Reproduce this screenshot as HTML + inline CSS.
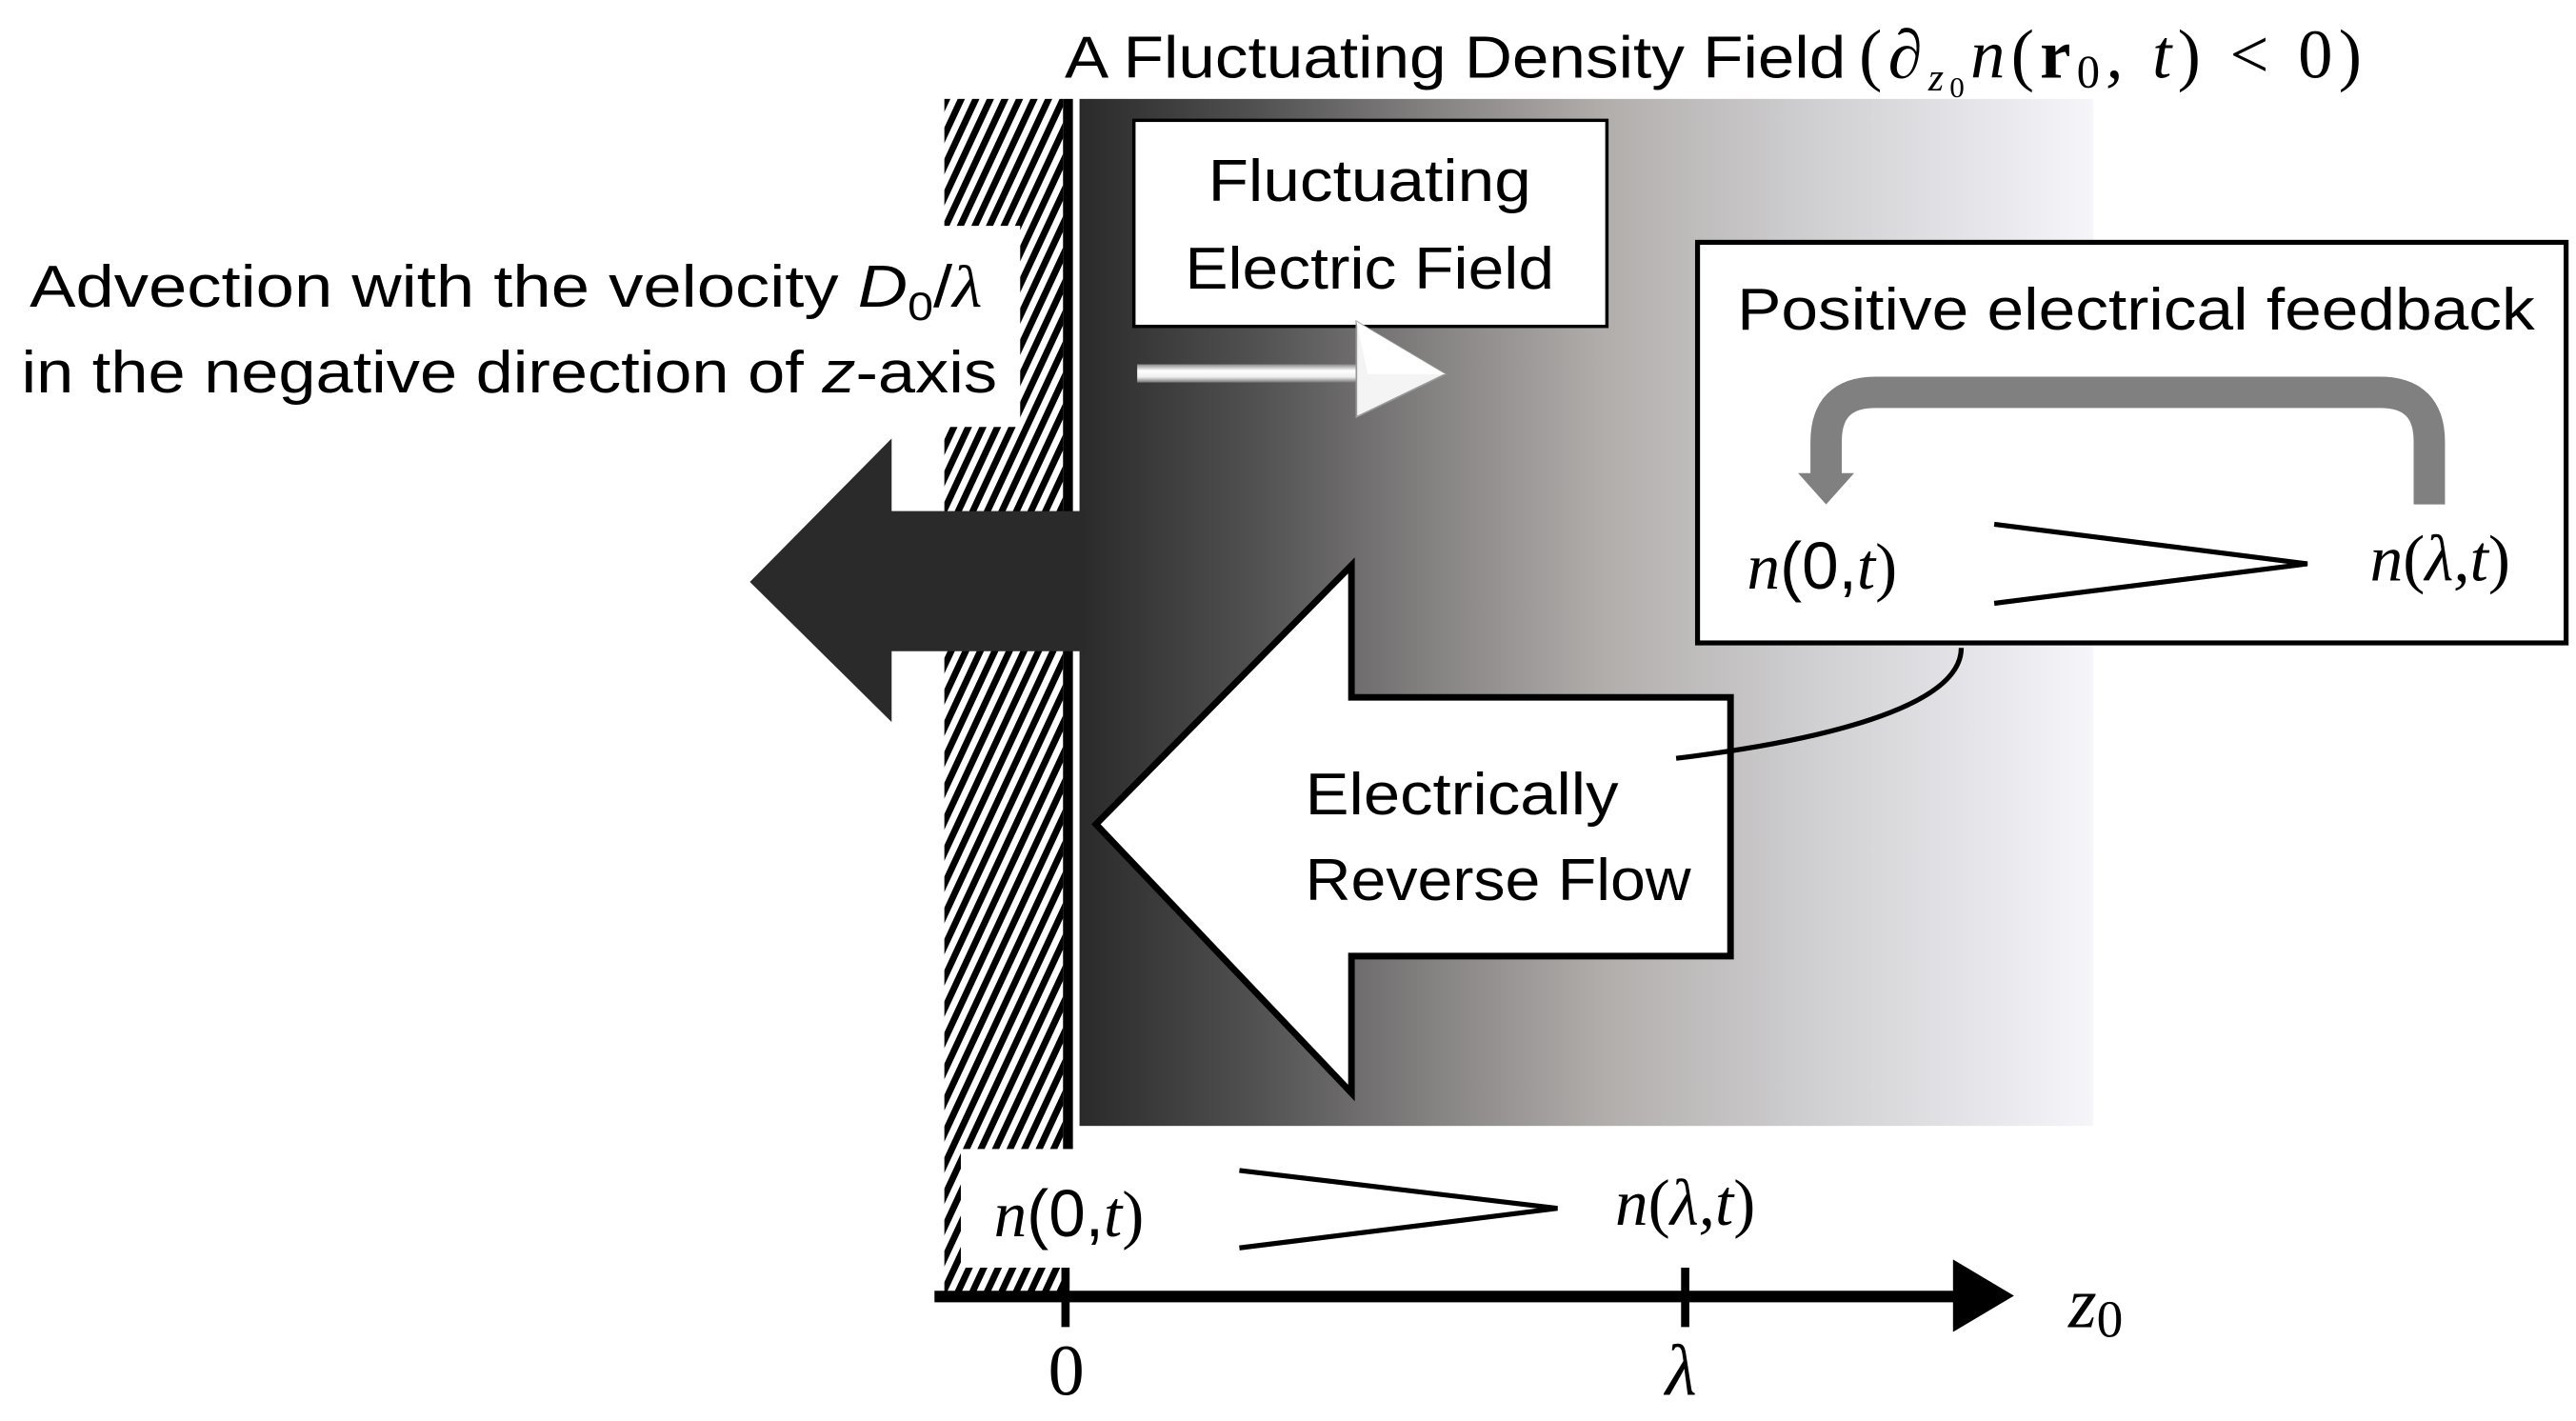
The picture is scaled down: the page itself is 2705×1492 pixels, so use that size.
<!DOCTYPE html>
<html><head><meta charset="utf-8"><style>html,body{margin:0;padding:0;background:#fff}svg{display:block}</style></head>
<body>
<svg width="2705" height="1492" viewBox="0 0 1563 862" preserveAspectRatio="none" xmlns="http://www.w3.org/2000/svg">
<defs>
<linearGradient id="g" x1="0" x2="1" y1="0" y2="0">
<stop offset="0" stop-color="#2a2a2a"/>
<stop offset="0.17" stop-color="#505050"/>
<stop offset="0.35" stop-color="#858282"/>
<stop offset="0.52" stop-color="#b2aeac"/>
<stop offset="0.75" stop-color="#d3d3d6"/>
<stop offset="1" stop-color="#f5f5fa"/>
</linearGradient>
<pattern id="h" width="8" height="8" patternUnits="userSpaceOnUse" patternTransform="rotate(25)">
<rect width="8" height="8" fill="#fff"/><rect width="4" height="8" fill="#000"/>
</pattern>
<linearGradient id="ag" x1="0" x2="0" y1="0" y2="1">
<stop offset="0" stop-color="#888"/><stop offset="0.35" stop-color="#fff"/><stop offset="0.7" stop-color="#eee"/><stop offset="1" stop-color="#777"/>
</linearGradient>
</defs>

<!-- title -->
<text x="646" y="47" font-family="Liberation Sans, sans-serif" font-size="36" textLength="474" lengthAdjust="spacingAndGlyphs">A Fluctuating Density Field</text>
<text x="1128" y="47" font-family="Liberation Serif, serif" font-size="42" font-style="italic" textLength="305" lengthAdjust="spacing"><tspan font-style="normal">(</tspan>∂<tspan font-size="24" dy="8">z</tspan><tspan font-size="18" dy="4" font-style="normal">0</tspan><tspan dy="-12">n</tspan><tspan font-style="normal">(</tspan><tspan font-style="normal" font-weight="bold">r</tspan><tspan font-style="normal" font-size="28" dy="6">0</tspan><tspan dy="-6">, t</tspan><tspan font-style="normal">)  &lt;  0)</tspan></text>

<!-- gradient field -->
<rect x="655" y="60" width="615" height="623" fill="url(#g)"/>

<!-- hatch wall -->
<rect x="573" y="60" width="72" height="725" fill="url(#h)"/>
<rect x="0" y="137" width="619" height="122" fill="#fff"/>
<rect x="583" y="697" width="122" height="72" fill="#fff"/>
<rect x="645" y="60" width="6" height="637" fill="#000"/>

<!-- advection text -->
<text x="307" y="186" text-anchor="middle" font-family="Liberation Sans, sans-serif" font-size="36" textLength="578" lengthAdjust="spacingAndGlyphs">Advection with the velocity <tspan font-style="italic">D</tspan><tspan font-size="24" dy="8">0</tspan><tspan dy="-8">/</tspan><tspan font-family="Liberation Serif, serif" font-style="italic">λ</tspan></text>
<text x="309" y="238" text-anchor="middle" font-family="Liberation Sans, sans-serif" font-size="36" textLength="592" lengthAdjust="spacingAndGlyphs">in the negative direction of <tspan font-style="italic">z</tspan>-axis</text>

<!-- big black arrow -->
<polygon points="455,353 541,266 541,310 657,310 657,395 541,395 541,438" fill="#2a2a2a"/>

<!-- fluctuating electric field box -->
<rect x="688" y="73" width="287" height="125" fill="#fff" stroke="#000" stroke-width="2"/>
<text x="831" y="122" text-anchor="middle" font-family="Liberation Sans, sans-serif" font-size="36" textLength="196" lengthAdjust="spacingAndGlyphs">Fluctuating</text>
<text x="831" y="175" text-anchor="middle" font-family="Liberation Sans, sans-serif" font-size="36" textLength="224" lengthAdjust="spacingAndGlyphs">Electric Field</text>

<!-- small 3D arrow -->
<rect x="690" y="221" width="135" height="11" fill="url(#ag)"/>
<polygon points="823,195 877,227 823,253" fill="#f4f4f4" stroke="#999" stroke-width="1"/>
<polygon points="823,195 877,227 830,227" fill="#fff"/>

<!-- white reverse flow arrow -->
<polygon points="665,500 820,343 820,423 1050,423 1050,580 820,580 820,663" fill="#fff" stroke="#000" stroke-width="4" stroke-linejoin="miter"/>
<text x="792" y="494" font-family="Liberation Sans, sans-serif" font-size="36" textLength="190" lengthAdjust="spacingAndGlyphs">Electrically</text>
<text x="792" y="546" font-family="Liberation Sans, sans-serif" font-size="36" textLength="234" lengthAdjust="spacingAndGlyphs">Reverse Flow</text>

<!-- connector curve -->
<path d="M1190,393 C1190,430 1100,450 1017,460" fill="none" stroke="#000" stroke-width="3"/>

<!-- feedback box -->
<rect x="1030" y="147" width="527" height="243" fill="#fff" stroke="#000" stroke-width="3"/>
<text x="1296" y="200" text-anchor="middle" font-family="Liberation Sans, sans-serif" font-size="36" textLength="484" lengthAdjust="spacingAndGlyphs">Positive electrical feedback</text>
<path d="M1474,306 L1474,268 Q1474,238 1444,238 L1138,238 Q1108,238 1108,268 L1108,288" fill="none" stroke="#808080" stroke-width="19"/>
<polygon points="1091,287 1125,287 1108,306" fill="#808080"/>
<text x="1060" y="357" font-family="Liberation Serif, serif" font-size="40" font-style="italic">n<tspan font-style="normal" font-family="Liberation Sans, sans-serif">(0,</tspan>t<tspan font-style="normal">)</tspan></text>
<polyline points="1210,318 1400,342 1210,366" fill="none" stroke="#000" stroke-width="3"/>
<text x="1438" y="352" font-family="Liberation Serif, serif" font-size="40" font-style="italic">n<tspan font-style="normal">(</tspan>λ,t<tspan font-style="normal">)</tspan></text>

<!-- bottom relation -->
<text x="603" y="750" font-family="Liberation Serif, serif" font-size="40" font-style="italic">n<tspan font-style="normal" font-family="Liberation Sans, sans-serif">(0,</tspan>t<tspan font-style="normal">)</tspan></text>
<polyline points="752,710 945,733 752,757" fill="none" stroke="#000" stroke-width="3"/>
<text x="980" y="743" font-family="Liberation Serif, serif" font-size="40" font-style="italic">n<tspan font-style="normal">(</tspan>λ,t<tspan font-style="normal">)</tspan></text>

<!-- axis -->
<rect x="567" y="783" width="625" height="7" fill="#000"/>
<polygon points="1185,764 1222,786 1185,808" fill="#000"/>
<rect x="644" y="769" width="5" height="36" fill="#000"/>
<rect x="1020" y="769" width="5" height="36" fill="#000"/>
<text x="647" y="846" text-anchor="middle" font-family="Liberation Serif, serif" font-size="44">0</text>
<text x="1020" y="846" text-anchor="middle" font-family="Liberation Serif, serif" font-size="44" font-style="italic">λ</text>
<text x="1255" y="805" font-family="Liberation Serif, serif" font-size="44" font-style="italic">z<tspan font-style="normal" font-size="32" dy="6">0</tspan></text>
</svg>
</body></html>
